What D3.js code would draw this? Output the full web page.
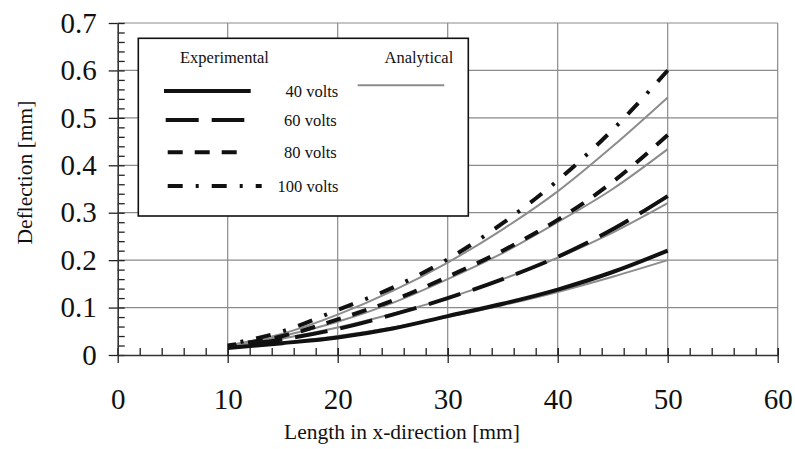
<!DOCTYPE html>
<html>
<head>
<meta charset="utf-8">
<script src="https://cdn.jsdelivr.net/npm/d3@7"></script>
<style>
  body { margin: 0; background: #fff; }
  text { font-family: "Liberation Serif", "Times New Roman", serif; fill: #111; }
</style>
</head>
<body>
<svg id="chart" width="795" height="449"></svg>
<script>
// data
var xValues = [10, 15, 20, 25, 30, 35, 40, 45, 50];
var labels = ["40 volts", "60 volts", "80 volts", "100 volts"];
var exp40 = [0.015, 0.025, 0.037, 0.056, 0.082, 0.108, 0.138, 0.175, 0.220];
var exp60 = [0.018, 0.033, 0.055, 0.085, 0.120, 0.160, 0.207, 0.265, 0.335];
var exp80 = [0.020, 0.040, 0.075, 0.115, 0.165, 0.220, 0.285, 0.365, 0.464];
var exp100 = [0.022, 0.050, 0.095, 0.142, 0.202, 0.278, 0.368, 0.475, 0.600];
var ana40 = [0.015, 0.026, 0.040, 0.058, 0.080, 0.105, 0.133, 0.165, 0.200];
var ana60 = [0.018, 0.035, 0.058, 0.087, 0.120, 0.160, 0.205, 0.258, 0.320];
var ana80 = [0.020, 0.040, 0.070, 0.110, 0.160, 0.215, 0.280, 0.350, 0.434];
var ana100 = [0.020, 0.045, 0.085, 0.135, 0.195, 0.265, 0.345, 0.440, 0.543];
var xTicks = [0, 10, 20, 30, 40, 50, 60];
var yTicks = [0, 0.1, 0.2, 0.3, 0.4, 0.5, 0.6, 0.7];

var experimental = [exp40, exp60, exp80, exp100];
var analytical = [ana40, ana60, ana80, ana100];
var dashes = ["none", "33,13", "15,12", "15,13,3,13"];
var firstDash = [0, 33, 15, 15];

var svg = d3.select("#chart");
var x = d3.scaleLinear().domain([0, 60]).range([117.7, 777.7]);
var y = d3.scaleLinear().domain([0, 0.7]).range([355, 23]);

var grid = svg.append("g");
grid.selectAll(".vg").data(xTicks.slice(1)).enter().append("line")
    .attr("x1", d => x(d)).attr("x2", d => x(d))
    .attr("y1", y(0)).attr("y2", y(0.7))
    .attr("stroke", "#8a8a8a").attr("stroke-width", 1.2);
grid.selectAll(".hg").data(yTicks.slice(1)).enter().append("line")
    .attr("x1", x(0)).attr("x2", x(60))
    .attr("y1", d => y(d)).attr("y2", d => y(d))
    .attr("stroke", "#8a8a8a").attr("stroke-width", 1.2);

// minor ticks
svg.append("g").attr("transform", "translate(0," + y(0) + ")")
    .call(d3.axisBottom(x).tickValues(d3.range(0, 61, 2)).tickSizeInner(-7).tickSizeOuter(0).tickFormat(""))
    .call(g => g.selectAll("line").attr("stroke", "#222").attr("stroke-width", 1.3))
    .call(g => g.select(".domain").remove());
svg.append("g").attr("transform", "translate(" + x(0) + ",0)")
    .call(d3.axisLeft(y).tickValues(d3.range(0, 0.701, 0.02)).tickSizeInner(-7).tickSizeOuter(0).tickFormat(""))
    .call(g => g.selectAll("line").attr("stroke", "#222").attr("stroke-width", 1.3))
    .call(g => g.select(".domain").remove());

// major axes
var xAxis = svg.append("g").attr("transform", "translate(0," + y(0) + ")")
    .call(d3.axisBottom(x).tickValues(xTicks).tickSizeInner(8).tickSizeOuter(0).tickPadding(25).tickFormat(d3.format("d")));
var yAxis = svg.append("g").attr("transform", "translate(" + x(0) + ",0)")
    .call(d3.axisLeft(y).tickValues(yTicks).tickSizeInner(9).tickSizeOuter(0).tickPadding(12).tickFormat(d => d === 0 ? "0" : d3.format(".1f")(d)));
[xAxis, yAxis].forEach(function (a) {
  a.select(".domain").attr("stroke", "#333").attr("stroke-width", 1.6);
  a.selectAll("line").attr("stroke", "#222").attr("stroke-width", 1.3);
  a.selectAll("text").attr("font-family", "Liberation Serif").attr("font-size", 29).attr("fill", "#111");
});
xAxis.selectAll("line").attr("y1", -7);

// lines
var line = d3.line().x((d, i) => x(xValues[i])).y(d => y(d)).curve(d3.curveMonotoneX);
svg.append("g").selectAll("path").data(analytical).enter().append("path")
    .attr("d", line).attr("fill", "none").attr("stroke", "#8c8c8c").attr("stroke-width", 2);
svg.append("g").selectAll("path").data(experimental).enter().append("path")
    .attr("d", line).attr("fill", "none").attr("stroke", "#111").attr("stroke-width", 4)
    .attr("stroke-dasharray", (d, i) => dashes[i])
    .attr("stroke-dashoffset", function (d, i) {
      if (i === 0) return 0;
      // let each dashed line end on a full dash at x = 50
      var period = d3.sum(dashes[i].split(",").map(Number));
      var len = this.getTotalLength();
      return firstDash[i] - (len % period);
    });

// legend
var legend = svg.append("g");
legend.append("rect").attr("x", 138.3).attr("y", 38.3).attr("width", 330).attr("height", 177.7)
    .attr("fill", "#fff").attr("stroke", "#111").attr("stroke-width", 1.6);
legend.append("text").attr("x", 180).attr("y", 62.5).attr("font-size", 16.5).text("Experimental");
legend.append("text").attr("x", 384.5).attr("y", 62.5).attr("font-size", 16.5).text("Analytical");
legend.append("line").attr("x1", 357.7).attr("x2", 444.3).attr("y1", 85.3).attr("y2", 85.3)
    .attr("stroke", "#8c8c8c").attr("stroke-width", 2);
var rowY = [91, 120, 152.3, 186];
var rowX1 = [164, 165.7, 167.7, 167.7];
var rowX2 = [250.7, 244.3, 241.7, 261.7];
var rowTx = [285.5, 284, 284, 277.5];
var rows = legend.selectAll(".row").data(labels).enter().append("g");
rows.append("line")
    .attr("x1", (d, i) => rowX1[i]).attr("x2", (d, i) => rowX2[i])
    .attr("y1", (d, i) => rowY[i]).attr("y2", (d, i) => rowY[i])
    .attr("stroke", "#111").attr("stroke-width", 4)
    .attr("stroke-dasharray", (d, i) => dashes[i]);
rows.append("text")
    .attr("x", (d, i) => rowTx[i]).attr("y", (d, i) => rowY[i] + 6)
    .attr("font-size", 16.5).text(d => d);

// axis titles
svg.append("text").attr("x", 402).attr("y", 439).attr("text-anchor", "middle")
    .attr("font-size", 21.5).text("Length in x-direction [mm]");
svg.append("text").attr("transform", "translate(32,172.5) rotate(-90)").attr("text-anchor", "middle")
    .attr("font-size", 21.5).text("Deflection [mm]");
</script>
</body>
</html>
